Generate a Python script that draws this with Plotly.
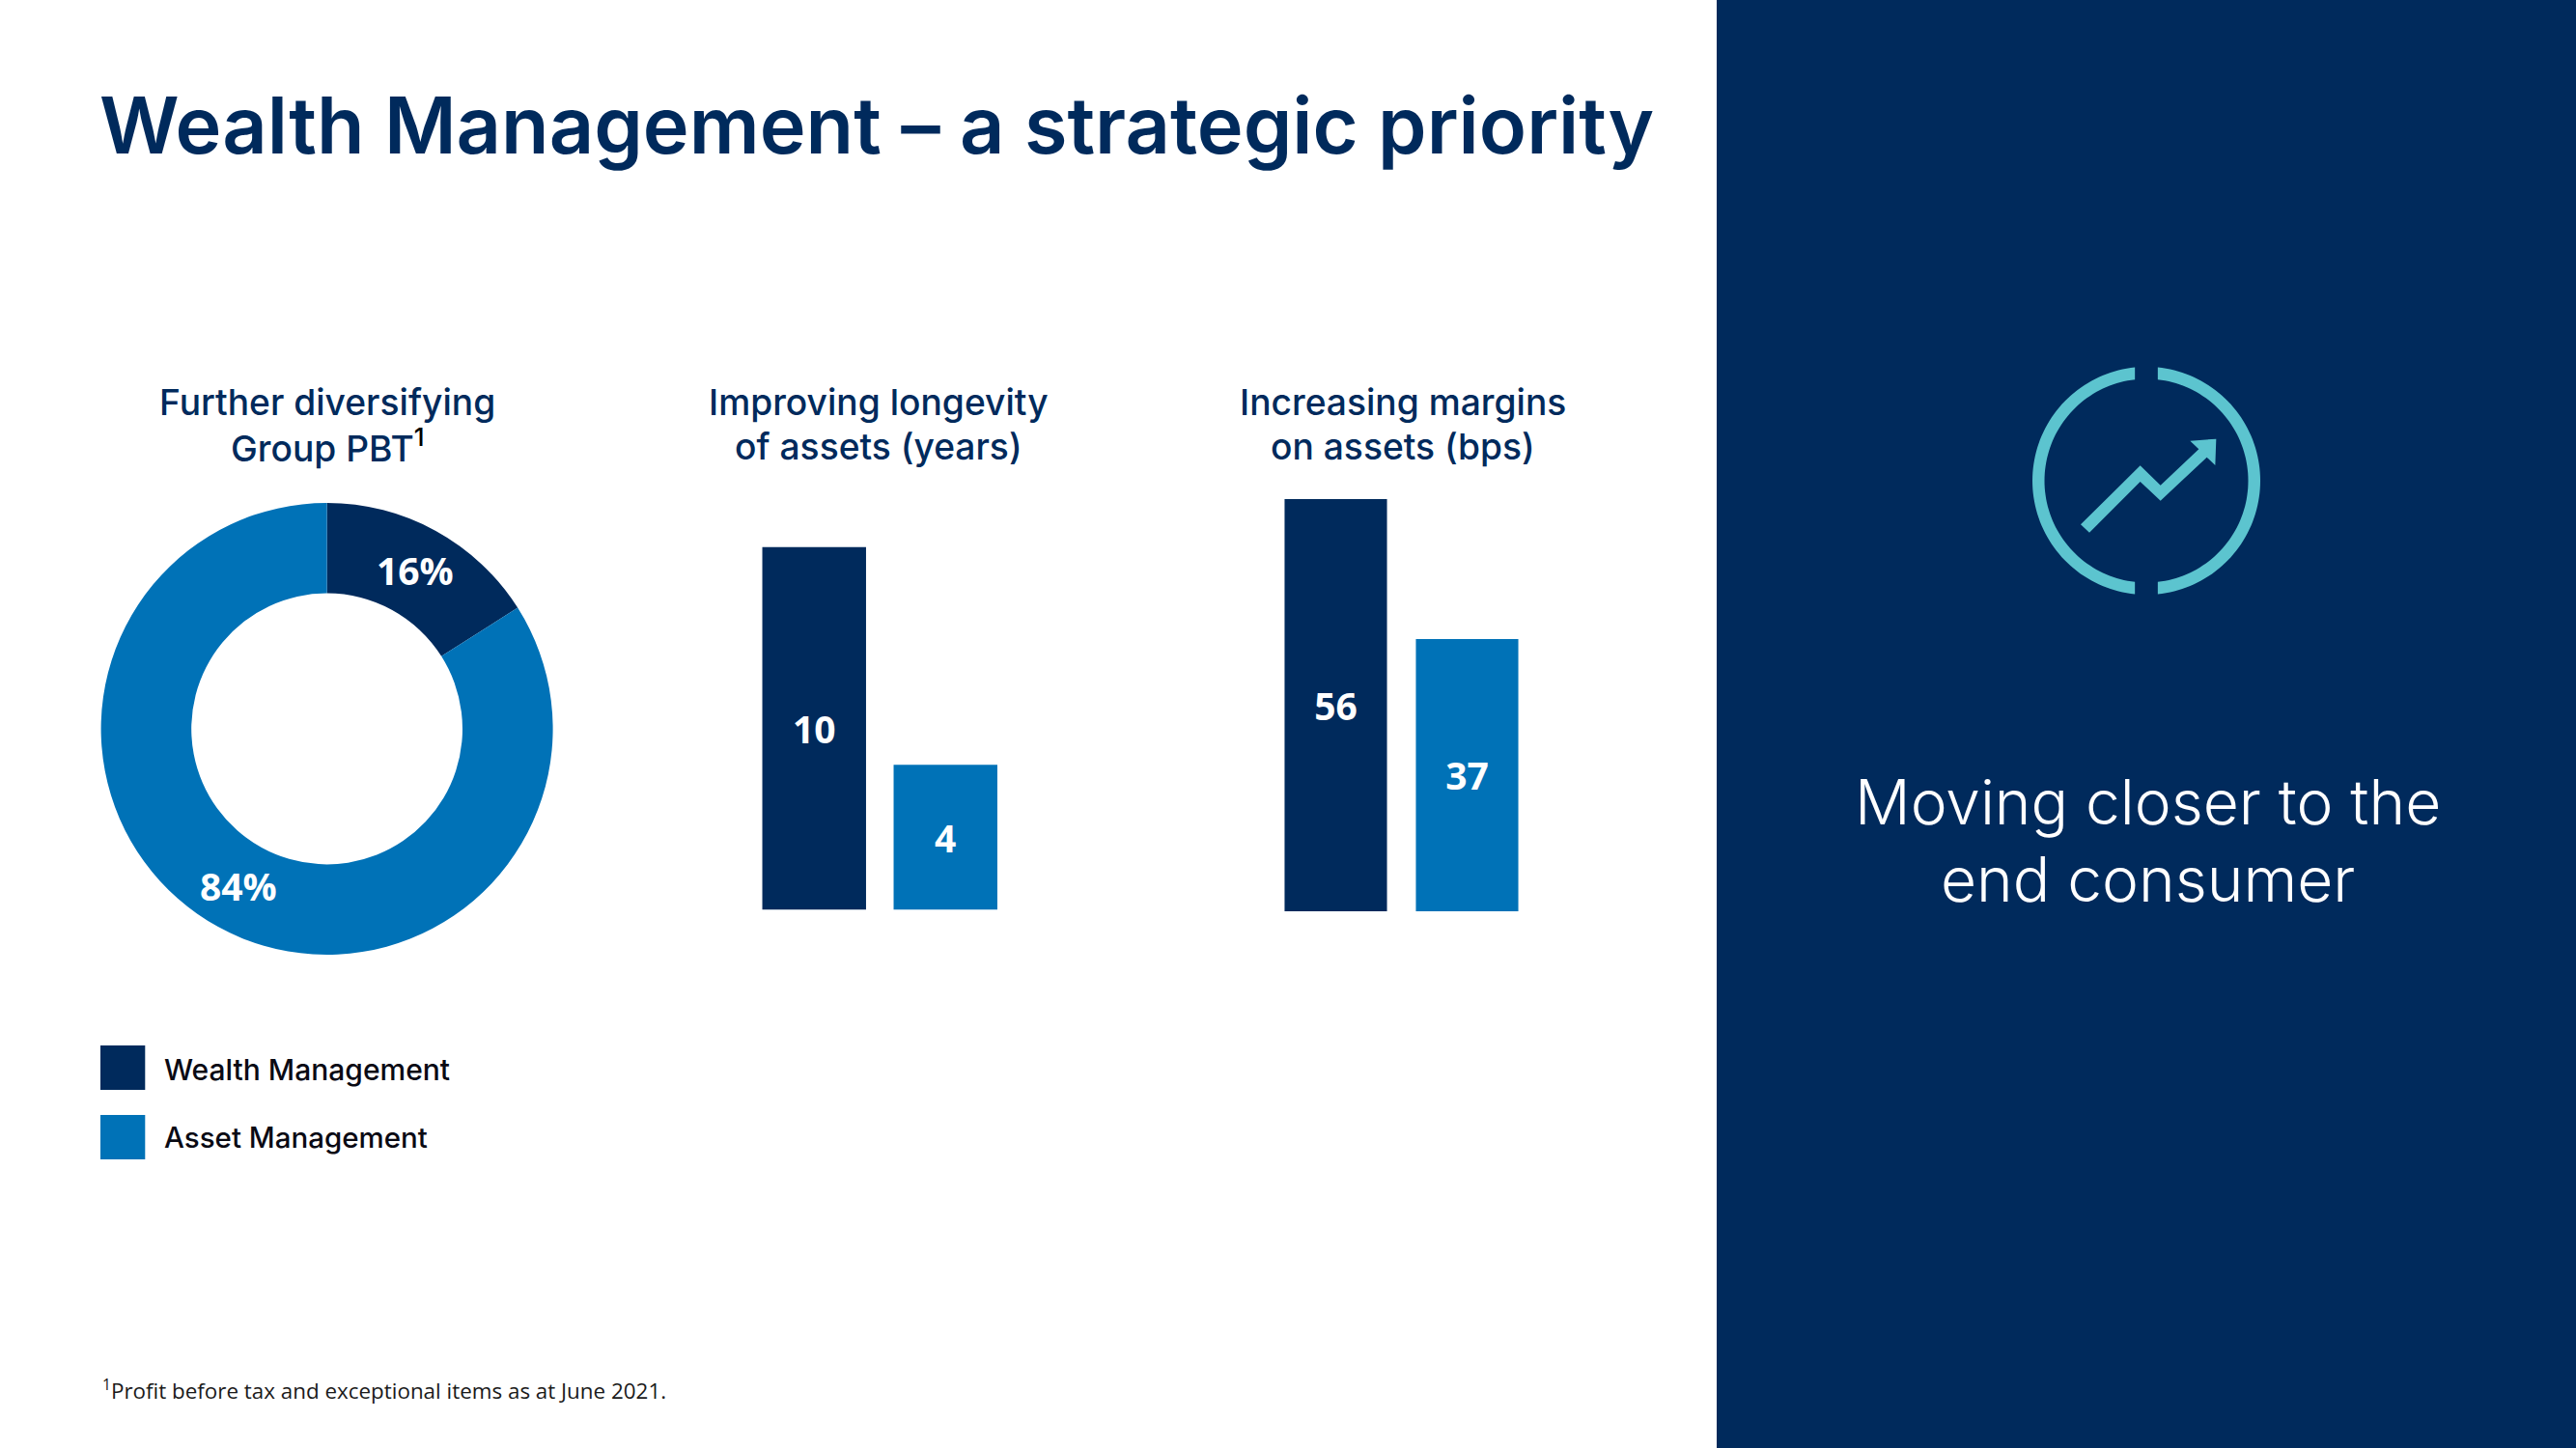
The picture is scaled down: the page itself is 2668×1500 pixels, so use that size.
import math
import plotly.graph_objects as go

W, H = 2668, 1500
NAVY = "#002A5C"
BLUE = "#0072B7"
TEAL = "#5CC4CF"
HEAD = "Inter"
BODY = "Open Sans"

# ---- data ----
mix_labels = ["Wealth Management", "Asset Management"]
mix_values = [16, 84]
longevity_categories = ["Wealth Management", "Asset Management"]
longevity_values = [10, 4]
margin_categories = ["Wealth Management", "Asset Management"]
margin_values = [56, 37]
bar_colors = [NAVY, BLUE]


def px(x):
    return x / W


def py(y):
    return 1 - y / H


fig = go.Figure()

fig.add_trace(go.Pie(
    labels=mix_labels, values=mix_values, hole=0.6, sort=False, direction="clockwise", rotation=0,
    marker=dict(colors=bar_colors, line=dict(width=0)),
    textinfo="none",
    domain=dict(x=[px(338.6 - 234), px(338.6 + 234)], y=[py(755 + 234), py(755 - 234)]),
    showlegend=False, automargin=False,
))

fig.add_trace(go.Bar(
    x=longevity_categories, y=longevity_values, xaxis="x", yaxis="y",
    marker=dict(color=bar_colors, line=dict(width=0)), width=0.79,
    text=longevity_values, textposition="inside", insidetextanchor="middle", textangle=0,
    textfont=dict(family=BODY, size=39, color="white", weight=700), showlegend=False,
))
fig.add_trace(go.Bar(
    x=margin_categories, y=margin_values, xaxis="x2", yaxis="y2",
    marker=dict(color=bar_colors, line=dict(width=0)), width=0.78,
    text=margin_values, textposition="inside", insidetextanchor="middle", textangle=0,
    textfont=dict(family=BODY, size=39, color="white", weight=700), showlegend=False,
))

hidden = dict(visible=False, fixedrange=True)
layout = dict(
    width=W, height=H, margin=dict(l=0, r=0, t=0, b=0), autosize=False,
    paper_bgcolor="white", plot_bgcolor="rgba(0,0,0,0)",
    xaxis=dict(domain=[px(775.25), px(1047.25)], range=[-0.5, 1.5], **hidden),
    yaxis=dict(domain=[py(942.6), py(566.6)], range=[0, 10], **hidden),
    xaxis2=dict(domain=[px(1315.5), px(1587.5)], range=[-0.5, 1.5], **hidden),
    yaxis2=dict(domain=[py(944), py(517)], range=[0, 56], **hidden),
)

# ---- panel and legend swatches ----
shapes = [
    dict(type="rect", xref="paper", yref="paper", x0=px(1778), x1=1, y0=0, y1=1,
         fillcolor=NAVY, line_width=0, layer="below"),
    dict(type="rect", xref="paper", yref="paper", x0=px(104), x1=px(150.3), y0=py(1129), y1=py(1083),
         fillcolor=NAVY, line_width=0),
    dict(type="rect", xref="paper", yref="paper", x0=px(104), x1=px(150.3), y0=py(1201), y1=py(1155),
         fillcolor=BLUE, line_width=0),
]


# ---- icon ----
def ring_path(side):
    cx, cy, ro, ri, gap = 2223, 498, 118, 105.5, 11.85
    ao = math.asin(gap / ro)
    ai = math.asin(gap / ri)
    pts = []
    n = 80
    for i in range(n + 1):
        a = ao + (math.pi - 2 * ao) * i / n
        pts.append((cx + side * ro * math.sin(a), cy - ro * math.cos(a)))
    for i in range(n + 1):
        a = math.pi - ai - (math.pi - 2 * ai) * i / n
        pts.append((cx + side * ri * math.sin(a), cy - ri * math.cos(a)))
    return pts


arrow_zoom = [(285, 550), (470, 367), (533, 428), (652, 316), (625, 290), (706, 284),
              (703, 366), (677, 341), (533, 476), (470, 417), (312, 575)]
arrow = [(2060 + x / 3, 360 + y / 3) for x, y in arrow_zoom]
for poly in (ring_path(-1), ring_path(1), arrow):
    d = "M " + " L ".join(f"{px(x):.5f},{py(y):.5f}" for x, y in poly) + " Z"
    shapes.append(dict(type="path", xref="paper", yref="paper", path=d, fillcolor=TEAL, line_width=0))
layout["shapes"] = shapes


# ---- text ----
def note(text, x, y, size, color=NAVY, family=HEAD, weight=400, anchor="center"):
    return dict(text=text, x=px(x), y=py(y), xref="paper", yref="paper", xanchor=anchor, yanchor="middle",
                showarrow=False, font=dict(family=family, size=size, color=color, weight=weight), align="center")


layout["annotations"] = [
    note("Wealth Management – a strategic priority", 101, 130, 81, weight=600, anchor="left"),
    note("Further diversifying", 338.6, 416, 37.2, weight=500),
    note('Group PBT<sup><span style="color:black">1</span></sup>', 338.6, 462, 37.2, weight=500),
    note("Improving longevity", 910, 416, 37.2, weight=500),
    note("of assets (years)", 910, 462, 37.2, weight=500),
    note("Increasing margins", 1453, 416, 37.2, weight=500),
    note("on assets (bps)", 1453, 462, 37.2, weight=500),
    note("Wealth Management", 168, 1108, 30, color="#0A0A14", weight=500, anchor="left"),
    note("Asset Management", 168, 1178, 29.5, color="#0A0A14", weight=500, anchor="left"),
    note("Moving closer to the", 2224, 830.5, 64, color="white", weight=300),
    note("end consumer", 2224, 910.5, 64, color="white", weight=300),
    note("<sup>1</sup>Profit before tax and exceptional items as at June 2021.", 104, 1439.5, 22.4,
         color="#1A1A1A", family=BODY, anchor="left"),
    note(f"{mix_values[0]}%", 430, 590.5, 39, color="white", family=BODY, weight=700),
    note(f"{mix_values[1]}%", 247, 917.5, 39, color="white", family=BODY, weight=700),
]

fig.update_layout(**layout)
fig.write_html("out.html", config=dict(displayModeBar=False),
               post_script="document.body.style.margin='0';document.documentElement.style.overflow='hidden';")
